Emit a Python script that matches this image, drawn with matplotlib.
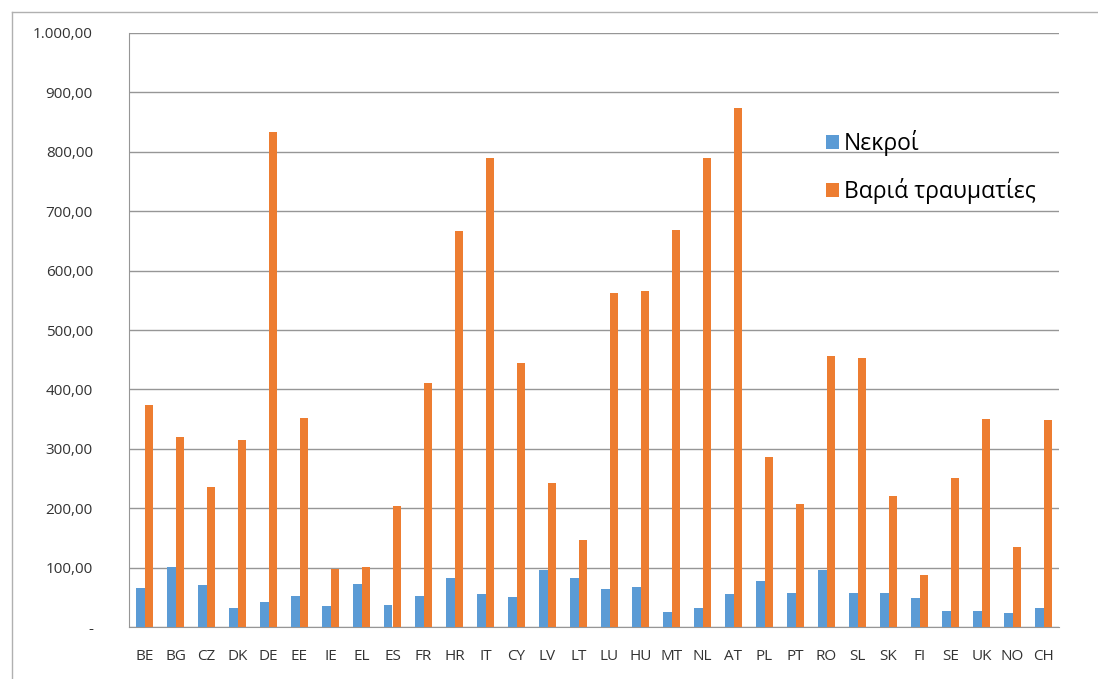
import matplotlib.pyplot as plt
import numpy as np
from matplotlib.lines import Line2D

plt.rcParams['font.family'] = ['Open Sans', 'DejaVu Sans']

countries = ["BE", "BG", "CZ", "DK", "DE", "EE", "IE", "EL", "ES", "FR", "HR", "IT",
             "CY", "LV", "LT", "LU", "HU", "MT", "NL", "AT", "PL", "PT", "RO", "SL",
             "SK", "FI", "SE", "UK", "NO", "CH"]
deaths = [65, 101, 71, 32, 42, 52, 35, 72, 37, 52, 83, 56,
          50, 96, 83, 64, 67, 25, 32, 56, 78, 58, 96, 58,
          58, 49, 27, 27, 23, 32]
injured = [374, 320, 236, 315, 833, 352, 98, 101, 204, 411, 667, 790,
           444, 242, 147, 562, 566, 668, 790, 874, 287, 207, 456, 453,
           221, 87, 251, 350, 135, 348]
yticks = [0, 100, 200, 300, 400, 500, 600, 700, 800, 900, 1000]
ytick_labels = ["-", "100,00", "200,00", "300,00", "400,00", "500,00",
                "600,00", "700,00", "800,00", "900,00", "1.000,00"]

fig = plt.figure(figsize=(10.98, 6.79), dpi=100)
ax = fig.add_axes([129 / 1098, 1 - 627 / 679, 930 / 1098, 594 / 679])

x = np.arange(len(countries))
w = 0.29
ax.bar(x - 0.145, deaths, w, color="#5B9BD5", label="Νεκροί", zorder=3)
ax.bar(x + 0.145, injured, w, color="#ED7D31", label="Βαριά τραυματίες", zorder=3)

ax.set_xlim(-0.5, len(countries) - 0.5)
ax.set_ylim(0, 1000)
ax.set_yticks(yticks)
ax.set_yticklabels(ytick_labels, fontsize=11, color="#333333")
ax.set_xticks(x)
ax.set_xticklabels(countries, fontsize=11, color="#333333")
ax.tick_params(axis="y", length=0, pad=26)
ax.tick_params(axis="x", length=0, pad=16)
ax.grid(axis="y", color="#969696", linewidth=1, zorder=0)
for s in ["top", "right"]:
    ax.spines[s].set_visible(False)
ax.spines["left"].set_color("#969696")
ax.spines["bottom"].set_color("#969696")

leg = ax.legend(loc="upper left", bbox_to_anchor=(0.727, 0.871), frameon=False,
                fontsize=16.5, handlelength=0.6, handleheight=0.6,
                handletextpad=0.2, labelspacing=0.95)

# chart frame edges
fig.add_artist(Line2D([12 / 1098, 1], [1 - 12 / 679, 1 - 12 / 679],
                      color="#b0b0b0", linewidth=1))
fig.add_artist(Line2D([12 / 1098, 12 / 1098], [0, 1 - 12 / 679],
                      color="#b0b0b0", linewidth=1))

fig.savefig("out.png", dpi=100)
